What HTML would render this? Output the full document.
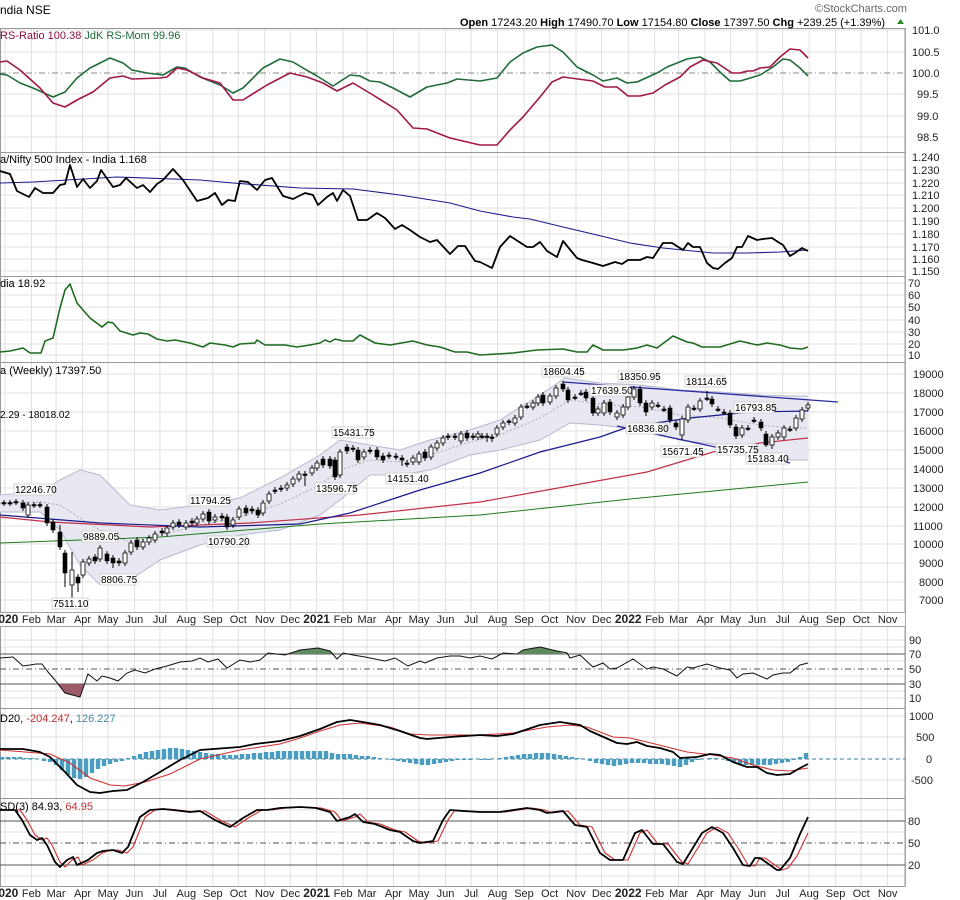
<!DOCTYPE html>
<html><head><meta charset="utf-8">
<style>
html,body{margin:0;padding:0;background:#fff;}
svg{display:block;font-family:"Liberation Sans","DejaVu Sans",sans-serif;}
.ax{font-size:11px;fill:#222;}
.lb{font-size:11px;fill:#000;}
.ann{font-size:10px;fill:#000;}
.dt{font-size:11px;fill:#222;text-anchor:middle;}
.yr{font-size:12px;font-weight:bold;fill:#222;text-anchor:middle;}
</style></head><body>
<svg width="960" height="900" viewBox="0 0 960 900" xmlns="http://www.w3.org/2000/svg">
<rect width="960" height="900" fill="#fff"/>
<!-- vertical month grid -->
<path fill="none" stroke="#e0e0e0" stroke-width="1" d="M5 28V612M31.4 28V612M56.1 28V612M82.5 28V612M108 28V612M134.4 28V612M159.9 28V612M186.3 28V612M212.8 28V612M238.3 28V612M264.7 28V612M290.2 28V612M316.6 28V612M343.1 28V612M367 28V612M393.4 28V612M419 28V612M445.5 28V612M471.1 28V612M497.5 28V612M524 28V612M549.6 28V612M576 28V612M601.6 28V612M628.2 28V612M654.7 28V612M678.6 28V612M705 28V612M730.6 28V612M757.1 28V612M782.7 28V612M809.1 28V612M835.6 28V612M861.2 28V612M887.6 28V612
M5 626V886M31.4 626V886M56.1 626V886M82.5 626V886M108 626V886M134.4 626V886M159.9 626V886M186.3 626V886M212.8 626V886M238.3 626V886M264.7 626V886M290.2 626V886M316.6 626V886M343.1 626V886M367 626V886M393.4 626V886M419 626V886M445.5 626V886M471.1 626V886M497.5 626V886M524 626V886M549.6 626V886M576 626V886M601.6 626V886M628.2 626V886M654.7 626V886M678.6 626V886M705 626V886M730.6 626V886M757.1 626V886M782.7 626V886M809.1 626V886M835.6 626V886M861.2 626V886M887.6 626V886"/>
<!-- horizontal grid -->
<path fill="none" stroke="#e0e0e0" stroke-width="1" d="M0 30H905M0 52H905M0 94H905M0 116H905M0 137H905
M0 157H905M0 170H905M0 183H905M0 195H905M0 208H905M0 221H905M0 234H905M0 247H905M0 259H905M0 271H905
M0 283H905M0 295H905M0 307H905M0 320H905M0 332H905M0 344H905M0 355H905
M0 374H905M0 393H905M0 412H905M0 431H905M0 450H905M0 469H905M0 488H905M0 507H905M0 526H905M0 544H905M0 563H905M0 582H905M0 600H905
M0 640H905M0 647H905M0 661H905M0 676H905M0 691H905M0 698H905
M0 716H905M0 737H905M0 780H905
M0 810H905M0 832H905M0 854H905M0 876H905"/>
<!-- panel frames -->
<g fill="none" stroke="#999" stroke-width="1">
<rect x="0.5" y="28.5" width="904.5" height="124"/>
<rect x="0.5" y="152.5" width="904.5" height="124"/>
<rect x="0.5" y="276.5" width="904.5" height="86"/>
<rect x="0.5" y="362.5" width="904.5" height="250"/>
<rect x="0.5" y="626.5" width="904.5" height="82"/>
<rect x="0.5" y="708.5" width="904.5" height="90"/>
<rect x="0.5" y="798.5" width="904.5" height="88"/>
</g>
<line x1="0" y1="612.5" x2="905" y2="612.5" stroke="#aaa" stroke-dasharray="2,2"/>
<line x1="0" y1="626.5" x2="905" y2="626.5" stroke="#aaa" stroke-dasharray="2,2"/>
<line x1="905.5" y1="28" x2="905.5" y2="886" stroke="#aaa"/>

<!-- reference lines -->
<line x1="0" y1="73" x2="905" y2="73" stroke="#888" stroke-dasharray="6,3,1,3"/>
<line x1="0" y1="654" x2="905" y2="654" stroke="#555"/>
<line x1="0" y1="669" x2="905" y2="669" stroke="#555" stroke-dasharray="6,3,1,3"/>
<line x1="0" y1="684" x2="905" y2="684" stroke="#555"/>
<line x1="0" y1="759" x2="905" y2="759" stroke="#3b7d97" stroke-dasharray="4,3"/>
<line x1="0" y1="821" x2="905" y2="821" stroke="#555"/>
<line x1="0" y1="843" x2="905" y2="843" stroke="#555" stroke-dasharray="6,3,1,3"/>
<line x1="0" y1="865" x2="905" y2="865" stroke="#555"/>

<!-- Panel 1 -->
<polyline fill="none" stroke="#1f6b3a" stroke-width="1.6" stroke-linejoin="round" points="0,74 7,75 20,83 33,88 53,97 65,92 77,78 90,68 110,58 123,63 132,70 147,73 163,75 177,67 185,68 200,77 220,85 233,93 243,88 263,68 280,59 293,62 303,68 317,76 333,86 350,75 360,76 370,81 380,82 393,88 410,97 427,87 447,83 457,79 480,81 497,78 510,62 523,53 537,47 552,45 563,52 577,67 593,75 603,81 617,78 627,83 637,82 657,73 667,67 687,59 700,57 710,62 720,72 730,81 740,81 747,79 760,75 773,67 783,59 790,60 800,68 808,76"/>
<polyline fill="none" stroke="#a01848" stroke-width="1.6" stroke-linejoin="round" points="0,62 7,61 20,70 40,88 53,103 65,107 77,100 93,92 110,78 123,76 132,79 160,78 167,77 177,68 187,70 203,78 220,83 233,100 243,100 267,85 290,73 307,77 323,83 337,91 353,83 373,95 397,110 413,128 427,129 450,138 480,145 497,145 510,130 523,117 540,97 552,82 563,77 593,81 605,87 617,87 628,96 640,96 653,93 665,85 680,77 690,67 703,60 717,63 732,73 740,73 747,71 753,71 760,68 770,67 780,57 790,49 800,50 808,58"/>

<!-- Panel 2 -->
<polyline fill="none" stroke="#1a1a8c" stroke-width="1.1" points="0,183 33,182 67,180 117,177 200,180 233,183 300,188 353,189 400,195 450,203 480,211 513,217 530,219 563,227 597,235 630,243 663,248 713,253 747,253 780,252 808,250"/>
<polyline fill="none" stroke="#000" stroke-width="1.8" stroke-linejoin="round" points="0,171 10,174 17,191 29,197 35,188 43,193 53,193 60,185 65,184 70,165 77,187 83,179 90,188 97,181 101,170 113,187 120,185 126,178 137,188 143,185 150,192 157,184 163,180 173,169 183,180 197,201 208,198 215,193 222,205 228,200 235,201 240,181 248,182 257,190 265,180 272,178 283,196 293,199 305,193 313,195 318,205 327,197 333,193 337,201 343,190 350,196 358,220 367,220 377,213 385,218 395,229 402,225 410,230 420,237 430,242 437,240 450,254 458,246 465,246 475,261 480,262 492,268 500,247 510,236 527,247 533,247 540,242 547,251 557,257 563,241 577,258 582,260 593,263 603,266 615,262 622,264 628,260 640,260 647,257 653,258 663,243 672,243 683,250 688,243 693,247 700,247 707,263 713,268 718,269 725,263 732,258 737,247 742,247 748,236 757,240 763,239 772,238 778,242 783,245 790,256 795,253 802,248 808,251"/>

<!-- Panel 3 -->
<polyline fill="none" stroke="#1f6b1f" stroke-width="1.6" stroke-linejoin="round" points="0,352 10,351 23,348 30,353 41,353 45,341 53,338 60,308 65,290 70,284 77,303 90,318 102,327 108,322 113,323 120,331 133,335 140,333 148,334 157,339 167,341 175,340 190,343 203,347 210,343 225,345 233,347 240,344 255,343 257,340 265,345 285,345 297,347 310,345 320,343 325,340 330,342 335,339 343,341 353,341 360,335 375,343 390,345 407,342 413,341 427,345 440,347 455,352 467,352 480,355 513,353 537,350 563,349 577,352 587,352 593,345 603,350 623,350 637,348 647,345 657,348 673,336 687,342 693,343 702,347 720,347 740,341 757,345 767,343 780,345 790,348 802,349 808,347"/>

<!-- Price panel: Bollinger -->
<polygon fill="#e8e8f2" stroke="none" points="0,495 40,492 60,480 80,470 100,475 130,505 160,510 200,505 240,498 280,478 320,455 340,440 370,445 400,450 430,440 470,430 500,420 540,395 565,378 600,383 640,385 680,390 720,392 760,395 790,396 808,396 808,460 790,460 760,455 720,445 680,440 640,430 600,425 570,423 540,440 500,450 470,455 430,470 400,475 370,475 340,500 320,515 280,530 240,535 200,545 160,560 130,580 100,585 80,565 60,530 40,512 0,512"/>
<polyline fill="none" stroke="#b8b8d0" points="0,495 40,492 60,480 80,470 100,475 130,505 160,510 200,505 240,498 280,478 320,455 340,440 370,445 400,450 430,440 470,430 500,420 540,395 565,378 600,383 640,385 680,390 720,392 760,395 790,396 808,396"/>
<polyline fill="none" stroke="#b8b8d0" points="0,512 40,512 60,530 80,565 100,585 130,580 160,560 200,545 240,535 280,530 320,515 340,500 370,475 400,475 430,470 470,455 500,450 540,440 570,423 600,425 640,430 680,440 720,445 760,455 790,460 808,460"/>
<polyline fill="none" stroke="#aaa" stroke-dasharray="2,2" points="0,503 40,502 60,505 80,518 100,530 130,542 160,535 200,525 240,517 280,504 320,485 340,470 370,460 400,462 430,455 470,442 500,435 540,418 570,400 600,404 640,407 680,415 720,418 760,425 790,428 808,428"/>
<!-- MAs -->
<polyline fill="none" stroke="#1f7a1f" stroke-width="1" points="0,543 160,537 320,524 480,515 640,498 808,482"/>
<polyline fill="none" stroke="#c0304a" stroke-width="1.2" points="0,517 50,522 150,527 250,523 360,515 480,502 547,490 647,472 713,452 760,443 808,438"/>
<polyline fill="none" stroke="#1a1a8c" stroke-width="1.2" points="0,515 100,523 200,527 300,524 350,513 420,490 480,473 540,452 600,437 628,427 690,418 750,412 808,411"/>
<line x1="563" y1="382" x2="838" y2="402" stroke="#2a2aa0" stroke-width="1.3"/>
<line x1="617" y1="426" x2="790" y2="463" stroke="#2a2aa0" stroke-width="1.3"/>

<!-- candle wicks -->
<path fill="none" stroke="#000" stroke-width="1" d="M4 500V506M10 500V506M16 499V505M23 500V511M28 502V518M34 502V508M40 502V508M47 504V526M53 519V533M60 525V550M65 550V587M72 552V603M78 574V592M83 559V578M89 556V566M95 554V564M100 545V562M107 551V564M113 555V568M119 558V566M125 550V566M131 540V555M137 537V550M143 539V550M149 535V545M155 531V543M162 528V536M167 525V536M173 520V530M179 519V528M186 520V530M192 518V526M197 516V526M203 511V522M209 509V524M215 514V523M222 513V521M227 514V530M233 517V528M239 506V520M246 505V516M252 506V514M258 507V518M263 500V516M269 491V504M275 487V494M281 485V492M287 482V491M293 476V487M299 471V482M305 471V486M312 465V476M317 460V471M323 456V468M330 456V469M335 457V480M340 449V478M347 444V454M353 445V452M358 447V463M364 449V460M370 447V454M377 447V460M383 453V463M389 452V459M396 453V460M402 455V466M407 460V467M413 455V465M419 451V465M425 449V461M431 444V460M437 440V451M443 435V446M448 433V440M455 433V440M461 431V444M467 430V441M473 433V440M478 431V440M482 433V439M487 433V442M492 434V442M497 425V437M503 420V430M509 419V425M515 415V426M521 404V420M527 403V409M533 400V410M538 394V406M543 392V406M550 393V405M556 385V399M563 381V392M568 387V403M575 394V400M581 390V396M586 389V401M593 395V416M598 406V416M604 400V416M610 399V415M617 410V420M623 404V418M628 389V410M634 386V400M640 386V406M646 400V416M652 400V410M658 402V408M664 406V412M670 405V423M676 420V430M682 416V440M688 404V423M694 405V411M700 398V412M707 391V401M712 396V407M718 406V412M724 409V415M730 410V428M736 424V439M742 425V438M748 425V431M754 417V423M761 419V431M766 431V447M772 434V449M778 430V440M784 425V440M790 426V432M796 415V431M802 407V422M808 402V411"/>
<!-- filled bodies -->
<path fill="#000" stroke="#000" stroke-width="0.6" d="M21 503h4v5h-4zM45 507h4v16h-4zM51 522h4v8h-4zM58 532h4v15h-4zM63 553h4v20h-4zM76 577h4v6h-4zM93 557h4v4h-4zM105 554h4v7h-4zM111 558h4v5h-4zM117 561h4v2h-4zM135 540h4v7h-4zM160 531h4v2h-4zM177 522h4v3h-4zM190 521h4v2h-4zM207 512h4v9h-4zM220 516h4v2h-4zM225 517h4v10h-4zM244 508h4v5h-4zM250 509h4v2h-4zM256 510h4v5h-4zM321 459h4v6h-4zM328 459h4v7h-4zM333 460h4v17h-4zM345 447h4v4h-4zM356 450h4v10h-4zM375 450h4v7h-4zM381 456h4v4h-4zM400 458h4v2h-4zM423 452h4v6h-4zM465 433h4v5h-4zM541 395h4v8h-4zM561 384h4v5h-4zM566 390h4v10h-4zM584 392h4v6h-4zM591 398h4v15h-4zM608 402h4v10h-4zM638 389h4v14h-4zM644 403h4v9h-4zM668 408h4v12h-4zM674 423h4v4h-4zM710 399h4v5h-4zM728 413h4v12h-4zM734 427h4v9h-4zM759 422h4v6h-4zM764 434h4v11h-4z
M2 502.5h4v1.5h-4zM8 502.5h4v1.5h-4zM14 501.5h4v1.5h-4zM32 504.5h4v1.5h-4zM38 504.5h4v1.5h-4zM273 490h4v1.5h-4zM279 488h4v1.5h-4zM303 474h4v1.5h-4zM351 448h4v1.5h-4zM368 450h4v1.5h-4zM387 455h4v1.5h-4zM394 456h4v1.5h-4zM405 463h4v1.5h-4zM446 436h4v1.5h-4zM453 436h4v1.5h-4zM471 436h4v1.5h-4zM480 436h4v1.5h-4zM485 436h4v1.5h-4zM490 437h4v1.5h-4zM507 421h4v1.5h-4zM525 406h4v1.5h-4zM573 397h4v1.5h-4zM579 393h4v1.5h-4zM656 405h4v1.5h-4zM662 409h4v1.5h-4zM692 408h4v1.5h-4zM705 398h4v1.5h-4zM716 409h4v1.5h-4zM722 412h4v1.5h-4zM746 428h4v1.5h-4zM752 420h4v1.5h-4zM788 429h4v1.5h-4z"/>
<!-- hollow bodies -->
<path fill="#fff" stroke="#000" stroke-width="0.8" d="M26 505h4v10h-4zM70 570h4v15h-4zM81 562h4v13h-4zM87 559h4v4h-4zM98 548h4v11h-4zM123 553h4v10h-4zM129 543h4v9h-4zM141 542h4v5h-4zM147 538h4v4h-4zM153 534h4v6h-4zM165 528h4v5h-4zM171 523h4v4h-4zM184 523h4v4h-4zM195 519h4v4h-4zM201 514h4v5h-4zM213 517h4v3h-4zM231 520h4v5h-4zM237 509h4v8h-4zM261 503h4v10h-4zM267 494h4v7h-4zM285 485h4v3h-4zM291 479h4v5h-4zM297 474h4v5h-4zM310 468h4v5h-4zM315 463h4v5h-4zM338 452h4v23h-4zM362 452h4v5h-4zM411 458h4v4h-4zM417 454h4v8h-4zM429 447h4v10h-4zM435 443h4v5h-4zM441 438h4v5h-4zM459 434h4v7h-4zM476 434h4v3h-4zM495 428h4v6h-4zM501 423h4v4h-4zM513 418h4v5h-4zM519 407h4v10h-4zM531 403h4v4h-4zM536 397h4v6h-4zM548 396h4v6h-4zM554 388h4v8h-4zM596 409h4v4h-4zM602 403h4v10h-4zM615 413h4v4h-4zM621 407h4v8h-4zM626 397h4v10h-4zM632 389h4v8h-4zM650 403h4v4h-4zM680 419h4v16h-4zM686 407h4v13h-4zM698 401h4v8h-4zM740 428h4v7h-4zM770 437h4v8h-4zM776 433h4v4h-4zM782 428h4v9h-4zM794 418h4v10h-4zM800 410h4v9h-4zM806 405h4v3h-4z"/>

<!-- annotations -->
<g stroke="#ccc" stroke-width="0.8" fill="#fff">
<rect x="14" y="484" width="40" height="11"/><rect x="52" y="598" width="36" height="11"/><rect x="100" y="574" width="36" height="11"/><rect x="82" y="531" width="36" height="11"/><rect x="189" y="495" width="40" height="11"/><rect x="207" y="536" width="40" height="11"/><rect x="332" y="427" width="40" height="11"/><rect x="315" y="483" width="40" height="11"/><rect x="386" y="473" width="40" height="11"/><rect x="542" y="366" width="40" height="11"/><rect x="618" y="371" width="40" height="11"/><rect x="590" y="385" width="40" height="11"/><rect x="685" y="376" width="40" height="11"/><rect x="734" y="402" width="40" height="11"/><rect x="626" y="423" width="40" height="11"/><rect x="661" y="446" width="40" height="11"/><rect x="716" y="444" width="40" height="11"/><rect x="746" y="453" width="40" height="11"/>
</g>
<g class="ann">
<text x="15" y="493">12246.70</text><text x="53" y="607">7511.10</text><text x="101" y="583">8806.75</text><text x="83" y="540">9889.05</text><text x="190" y="504">11794.25</text><text x="208" y="545">10790.20</text><text x="333" y="436">15431.75</text><text x="316" y="492">13596.75</text><text x="387" y="482">14151.40</text><text x="543" y="375">18604.45</text><text x="619" y="380">18350.95</text><text x="591" y="394">17639.50</text><text x="686" y="385">18114.65</text><text x="735" y="411">16793.85</text><text x="627" y="432">16836.80</text><text x="662" y="455">15671.45</text><text x="717" y="453">15735.75</text><text x="747" y="462">15183.40</text>
</g>

<!-- RSI -->
<polygon fill="#5f8a5f" points="265,654 268,653 285,654 300,650 318,648 330,651 335,654"/>
<polygon fill="#5f8a5f" points="500,654 503,653 517,654 523,650 540,647 557,651 565,654"/>
<polygon fill="#9a5a68" points="57,684 65,693 80,697 85,684"/>
<polyline fill="none" stroke="#111" stroke-width="1" points="0,658 13,657 23,666 30,665 36,664 42,664 48,672 55,680 65,693 80,697 88,674 97,681 102,676 110,678 118,681 127,673 135,670 145,673 155,669 167,666 180,662 192,661 200,658 208,662 218,659 227,668 240,660 250,662 260,660 268,653 285,655 300,650 318,648 330,651 337,659 343,653 353,655 365,657 385,661 395,658 408,666 420,661 425,663 437,658 450,656 460,656 470,658 480,656 492,659 503,653 517,654 523,650 540,647 557,651 567,653 570,658 580,655 593,667 603,663 610,669 617,668 633,659 647,669 653,667 663,669 677,676 687,667 693,668 707,664 720,668 730,670 737,678 743,674 753,673 767,679 773,675 783,673 790,673 800,665 808,663"/>

<!-- MACD histogram -->
<path fill="none" stroke="#4a9cc0" stroke-width="4.4" d="M2 759V757M8 759V757M14 759V757M20 759V757M26 759V758M32 759V758M44 759V761M50 759V762M56 759V765M62 759V770M68 759V775M74 759V778M80 759V779M86 759V777M92 759V773M98 759V769M104 759V766M110 759V764M116 759V762M122 759V761M128 759V758M134 759V756M140 759V754M146 759V752M152 759V751M158 759V750M164 759V749M170 759V748M176 759V748M182 759V749M188 759V750M194 759V751M200 759V752M206 759V753M212 759V754M218 759V754M224 759V755M230 759V755M236 759V755M242 759V754M248 759V754M254 759V753M260 759V753M266 759V752M272 759V752M278 759V751M284 759V751M290 759V751M296 759V751M302 759V751M308 759V751M314 759V751M320 759V751M326 759V751M332 759V753M338 759V754M344 759V754M350 759V754M356 759V755M362 759V756M368 759V756M374 759V757M380 759V758M392 759V760M398 759V761M404 759V762M410 759V763M416 759V764M422 759V765M428 759V765M434 759V764M440 759V763M446 759V762M452 759V761M458 759V760M464 759V760M470 759V760M482 759V760M488 759V760M500 759V758M506 759V757M512 759V756M518 759V755M524 759V754M530 759V754M536 759V753M542 759V753M548 759V753M554 759V754M560 759V755M566 759V756M572 759V757M578 759V758M590 759V761M596 759V763M602 759V764M608 759V765M614 759V766M620 759V765M626 759V764M632 759V763M638 759V763M644 759V763M650 759V764M656 759V764M662 759V764M668 759V765M674 759V766M680 759V767M686 759V765M692 759V762M698 759V760M710 759V758M716 759V758M728 759V761M734 759V763M740 759V764M746 759V765M752 759V765M758 759V765M764 759V765M770 759V765M776 759V764M782 759V763M788 759V762M794 759V760M800 759V757M806 759V753"/>
<polyline fill="none" stroke="#d03030" stroke-width="1.1" points="0,750 50,754 70,763 90,778 110,785 125,786 145,782 170,774 200,759 240,750 280,744 300,738 320,731 340,725 360,723 390,727 410,734 430,735 480,735 513,733 547,727 570,725 587,727 613,737 630,738 647,742 667,747 687,752 713,755 733,758 753,765 773,770 790,771 808,768"/>
<polyline fill="none" stroke="#000" stroke-width="1.8" stroke-linejoin="round" points="0,749 23,749 40,752 50,757 65,772 77,785 90,792 100,793 113,791 127,790 143,782 160,772 180,760 200,750 240,747 255,744 280,741 300,736 320,729 337,722 350,720 363,722 380,725 400,731 420,738 427,739 450,737 480,735 497,736 513,734 540,725 560,722 580,725 590,731 617,743 627,744 637,742 647,746 660,748 673,752 680,758 697,757 710,754 720,755 733,762 747,767 757,767 767,773 777,775 790,774 800,768 808,764"/>

<!-- Stochastic -->
<polyline fill="none" stroke="#d03030" stroke-width="1.1" stroke-linejoin="round" points="5,810 20,810 27,820 35,835 42,840 47,838 52,845 60,862 65,867 72,860 78,857 82,865 93,860 102,853 108,851 118,850 127,853 133,847 145,817 155,810 168,809 178,810 195,812 205,811 220,820 235,827 248,818 262,810 272,810 285,808 305,807 321,808 335,812 342,821 355,817 360,814 368,822 380,824 395,830 405,832 418,841 425,843 438,841 448,820 455,810 468,811 485,812 505,812 532,808 545,810 552,813 568,811 580,825 592,827 605,853 615,860 628,860 640,833 647,830 658,844 668,844 682,862 688,864 707,833 717,827 728,833 738,848 748,865 755,866 760,858 765,858 775,865 782,870 788,868 797,856 808,833"/>
<polyline fill="none" stroke="#000" stroke-width="1.8" stroke-linejoin="round" points="0,810 15,810 22,820 30,835 37,840 42,838 47,845 55,862 60,867 67,860 73,857 77,865 88,860 97,853 103,851 113,850 122,853 128,847 140,817 150,810 163,809 173,810 190,812 200,811 215,820 230,827 243,818 257,810 267,810 280,808 300,807 316,808 330,812 337,821 350,817 355,814 363,822 375,824 390,830 400,832 413,841 420,843 433,841 443,820 450,810 463,811 480,812 500,812 527,808 540,810 547,813 563,811 575,825 587,827 600,853 610,860 623,860 635,833 642,830 653,844 663,844 677,862 683,864 702,833 712,827 723,833 733,848 743,865 750,866 755,858 760,858 770,865 777,870 780,870 790,858 800,834 808,817"/>

<!-- header -->
<text x="0" y="14" font-size="12" fill="#000">ndia NSE</text>
<text x="815" y="12" font-size="11" fill="#666">©StockCharts.com</text>
<text x="460" y="26" font-size="11" fill="#000"><tspan font-weight="bold">Open</tspan> 17243.20 <tspan font-weight="bold">High</tspan> 17490.70 <tspan font-weight="bold">Low</tspan> 17154.80 <tspan font-weight="bold">Close</tspan> 17397.50 <tspan font-weight="bold">Chg</tspan> +239.25 (+1.39%)</text>
<polygon points="897,24 904,24 900.5,19" fill="#2a8a2a"/>
<!-- panel labels -->
<text x="0" y="39" class="lb"><tspan fill="#8b1040">RS-Ratio 100.38</tspan> <tspan fill="#1f6b3a">JdK RS-Mom 99.96</tspan></text>
<text x="0" y="163" class="lb">a/Nifty 500 Index - India 1.168</text>
<text x="0" y="287" class="lb">dia 18.92</text>
<text x="0" y="374" class="lb">a (Weekly) 17397.50</text>
<text x="0" y="418" font-size="10" fill="#000">2.29 - 18018.02</text>
<text x="0" y="722" class="lb">D20, <tspan fill="#c03030">-204.247</tspan>, <tspan fill="#4a8ca0">126.227</tspan></text>
<text x="0" y="810" class="lb">SD(3) 84.93, <tspan fill="#c03030">64.95</tspan></text>
<!-- right axis -->
<g class="ax">
<text x="912" y="34">101.0</text><text x="912" y="56">100.5</text><text x="912" y="77">100.0</text><text x="917" y="98">99.5</text><text x="917" y="120">99.0</text><text x="917" y="141">98.5</text>
<text x="912" y="161">1.240</text><text x="912" y="174">1.230</text><text x="912" y="187">1.220</text><text x="912" y="199">1.210</text><text x="912" y="212">1.200</text><text x="912" y="225">1.190</text><text x="912" y="238">1.180</text><text x="912" y="251">1.170</text><text x="912" y="263">1.160</text><text x="912" y="275">1.150</text>
<text x="908" y="287">70</text><text x="908" y="299">60</text><text x="908" y="311">50</text><text x="908" y="324">40</text><text x="908" y="336">30</text><text x="908" y="348">20</text><text x="908" y="359">10</text>
<text x="913" y="378">19000</text><text x="913" y="397">18000</text><text x="913" y="416">17000</text><text x="913" y="435">16000</text><text x="913" y="454">15000</text><text x="913" y="473">14000</text><text x="913" y="492">13000</text><text x="913" y="511">12000</text><text x="913" y="530">11000</text><text x="913" y="548">10000</text><text x="919" y="567">9000</text><text x="919" y="586">8000</text><text x="919" y="604">7000</text>
<text x="909" y="644">90</text><text x="909" y="658">70</text><text x="909" y="673">50</text><text x="909" y="688">30</text><text x="909" y="702">10</text>
<text x="909" y="720">1000</text><text x="916" y="741">500</text><text x="926" y="763">0</text><text x="911" y="784">-500</text>
<text x="908" y="825">80</text><text x="908" y="847">50</text><text x="908" y="869">20</text>
</g>
<!-- date labels -->
<g>
<text class="yr" x="5" y="623">2020</text><text class="dt" x="31.4" y="623">Feb</text><text class="dt" x="56.1" y="623">Mar</text><text class="dt" x="82.5" y="623">Apr</text><text class="dt" x="108" y="623">May</text><text class="dt" x="134.4" y="623">Jun</text><text class="dt" x="159.9" y="623">Jul</text><text class="dt" x="186.3" y="623">Aug</text><text class="dt" x="212.8" y="623">Sep</text><text class="dt" x="238.3" y="623">Oct</text><text class="dt" x="264.7" y="623">Nov</text><text class="dt" x="290.2" y="623">Dec</text>
<text class="yr" x="316.6" y="623">2021</text><text class="dt" x="343.1" y="623">Feb</text><text class="dt" x="367" y="623">Mar</text><text class="dt" x="393.4" y="623">Apr</text><text class="dt" x="419" y="623">May</text><text class="dt" x="445.5" y="623">Jun</text><text class="dt" x="471.1" y="623">Jul</text><text class="dt" x="497.5" y="623">Aug</text><text class="dt" x="524" y="623">Sep</text><text class="dt" x="549.6" y="623">Oct</text><text class="dt" x="576" y="623">Nov</text><text class="dt" x="601.6" y="623">Dec</text>
<text class="yr" x="628.2" y="623">2022</text><text class="dt" x="654.7" y="623">Feb</text><text class="dt" x="678.6" y="623">Mar</text><text class="dt" x="705" y="623">Apr</text><text class="dt" x="730.6" y="623">May</text><text class="dt" x="757.1" y="623">Jun</text><text class="dt" x="782.7" y="623">Jul</text><text class="dt" x="809.1" y="623">Aug</text><text class="dt" x="835.6" y="623">Sep</text><text class="dt" x="861.2" y="623">Oct</text><text class="dt" x="887.6" y="623">Nov</text>
<text class="yr" x="5" y="897">2020</text><text class="dt" x="31.4" y="897">Feb</text><text class="dt" x="56.1" y="897">Mar</text><text class="dt" x="82.5" y="897">Apr</text><text class="dt" x="108" y="897">May</text><text class="dt" x="134.4" y="897">Jun</text><text class="dt" x="159.9" y="897">Jul</text><text class="dt" x="186.3" y="897">Aug</text><text class="dt" x="212.8" y="897">Sep</text><text class="dt" x="238.3" y="897">Oct</text><text class="dt" x="264.7" y="897">Nov</text><text class="dt" x="290.2" y="897">Dec</text>
<text class="yr" x="316.6" y="897">2021</text><text class="dt" x="343.1" y="897">Feb</text><text class="dt" x="367" y="897">Mar</text><text class="dt" x="393.4" y="897">Apr</text><text class="dt" x="419" y="897">May</text><text class="dt" x="445.5" y="897">Jun</text><text class="dt" x="471.1" y="897">Jul</text><text class="dt" x="497.5" y="897">Aug</text><text class="dt" x="524" y="897">Sep</text><text class="dt" x="549.6" y="897">Oct</text><text class="dt" x="576" y="897">Nov</text><text class="dt" x="601.6" y="897">Dec</text>
<text class="yr" x="628.2" y="897">2022</text><text class="dt" x="654.7" y="897">Feb</text><text class="dt" x="678.6" y="897">Mar</text><text class="dt" x="705" y="897">Apr</text><text class="dt" x="730.6" y="897">May</text><text class="dt" x="757.1" y="897">Jun</text><text class="dt" x="782.7" y="897">Jul</text><text class="dt" x="809.1" y="897">Aug</text><text class="dt" x="835.6" y="897">Sep</text><text class="dt" x="861.2" y="897">Oct</text><text class="dt" x="887.6" y="897">Nov</text>
</g>
</svg>
</body></html>
